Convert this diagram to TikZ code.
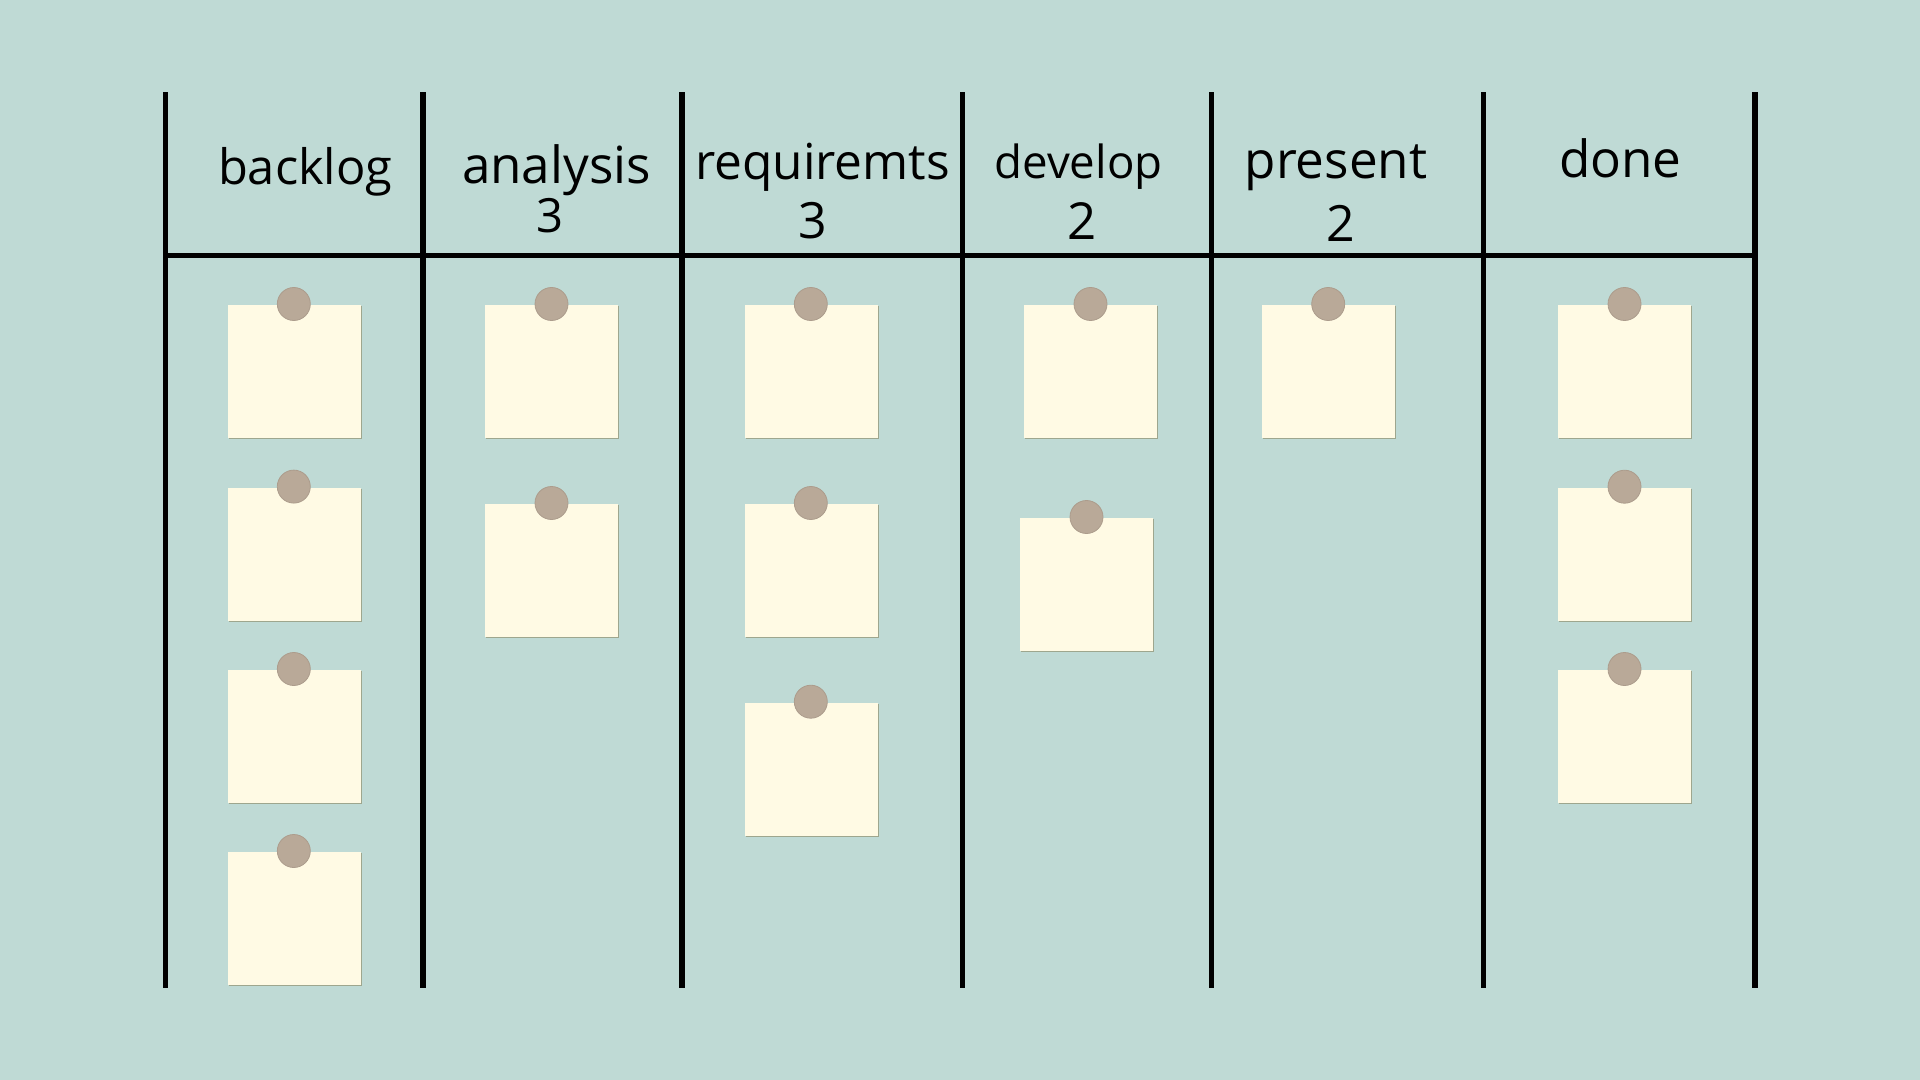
\documentclass[tikz,border=0pt]{standalone}
\usepackage{fontspec}
\setmainfont{Open Sans}
\definecolor{bg}{RGB}{191,218,213}
\definecolor{notefill}{RGB}{255,250,228}
\definecolor{noteshadow}{RGB}{158,166,142}
\definecolor{pinfill}{RGB}{185,169,152}
\definecolor{pinedge}{RGB}{172,156,140}
\newcommand\fsz[1]{\fontsize{#1pt}{#1pt}\selectfont}
\begin{document}
\begin{tikzpicture}[x=0.5pt,y=-0.5pt,
  vline/.style={line width=2.75pt,black,line cap=butt},
  hline/.style={line width=2.25pt,black,line cap=butt},
  note/.style={rectangle,fill=notefill,inner sep=0pt,minimum size=66.5pt,anchor=north west},
  pin/.style={circle,fill=pinfill,draw=pinedge,line width=0.4pt,inner sep=0pt,minimum size=16.5pt},
  lab/.style={inner sep=0pt,anchor=base,text=black}]
\fill[bg] (0,0) rectangle (1920,1080);
\useasboundingbox (0,0) rectangle (1920,1080);

% board lines
\foreach \xx in {165.5,423,682,962.3,1211.7,1483.3,1755}
  \draw[vline] (\xx,92.5) -- (\xx,987.7);
\draw[hline] (165.5,255.5) -- (1755,255.5);

% headers
\node[lab,font=\fsz{24.4}] (hbacklog) at (305.3,185) {backlog};
\node[lab,font=\fsz{25.6}] (hanalysis) at (556.5,183.3) {analysis};
\node[lab,font=\fsz{23.6}] (lanalysis) at (549.5,232.7) {3};
\node[lab,font=\fsz{24.8}] (hreq) at (822.5,180) {requiremts};
\node[lab,font=\fsz{25}] (lreq) at (813.2,238.3) {3};
\node[lab,font=\fsz{22.8}] (hdevelop) at (1078.5,179) {develop};
\node[lab,font=\fsz{25.5}] (ldevelop) at (1082,239.3) {2};
\node[lab,font=\fsz{25.6}] (hpresent) at (1336,178.3) {present};
\node[lab,font=\fsz{25}] (lpresent) at (1341,241.7) {2};
\node[lab,font=\fsz{25.6}] (hdone) at (1620.3,177.3) {done};

% sticky notes
\newcommand\stickynote[3]{%
  \fill[noteshadow] (#2+1.2,#3+1.2) rectangle ++(133,133);
  \node[note] (#1) at (#2,#3) {};
  \node[pin] (#1pin) at (#2+66.5,#3-1) {};
}
\stickynote{b1}{227.3}{305}
\stickynote{b2}{227.3}{487.6}
\stickynote{b3}{227.3}{670}
\stickynote{b4}{227.3}{852}
\stickynote{a1}{485}{305}
\stickynote{a2}{485}{504}
\stickynote{r1}{744.3}{305}
\stickynote{r2}{744.3}{504}
\stickynote{r3}{744.3}{702.7}
\stickynote{d1}{1024}{305}
\stickynote{d2}{1020}{518}
\stickynote{p1}{1261.7}{305}
\stickynote{o1}{1558}{305}
\stickynote{o2}{1558}{487.7}
\stickynote{o3}{1558}{670}
\end{tikzpicture}
\end{document}
